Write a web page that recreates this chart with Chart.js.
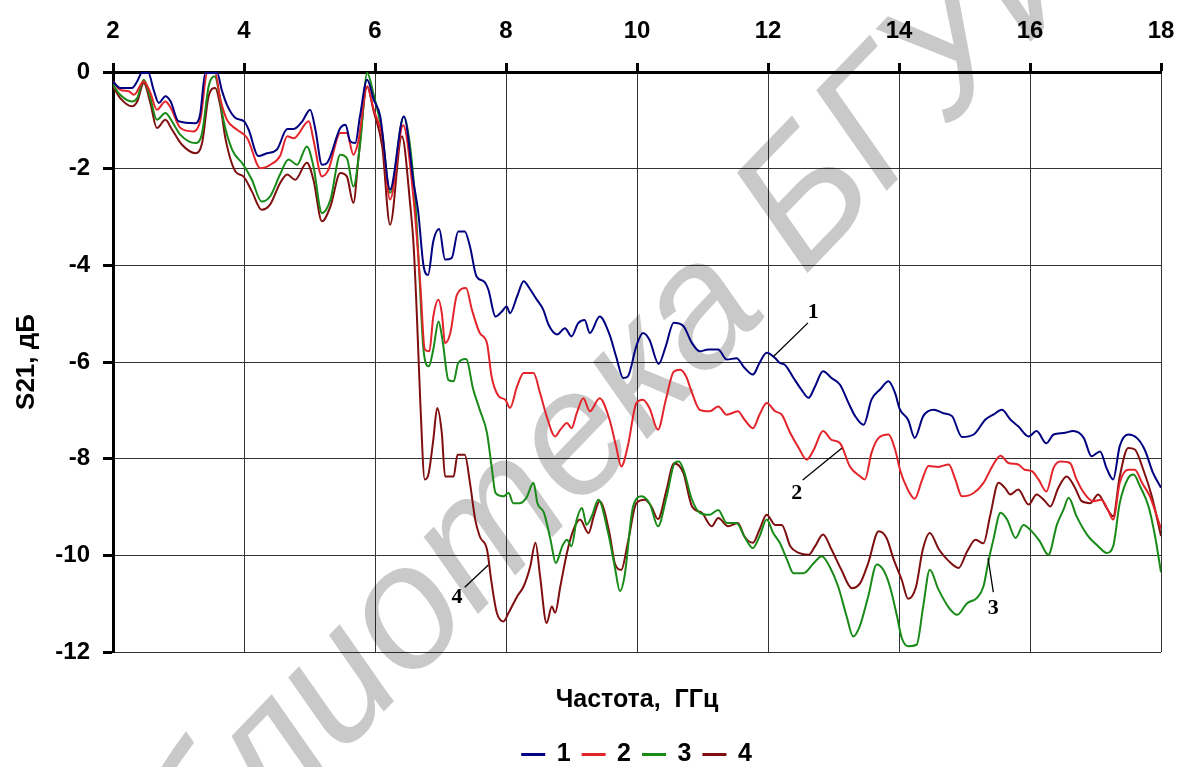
<!DOCTYPE html>
<html>
<head>
<meta charset="utf-8">
<script src="https://cdn.jsdelivr.net/npm/chart.js@4.4.1/dist/chart.umd.min.js"></script>
<style>
  html, body { margin: 0; padding: 0; background: #fff; }
  #wrap { width: 1177px; height: 767px; }
</style>
</head>
<body>
<div id="wrap"><canvas id="s21-chart"></canvas></div>
<script>
// frequency, GHz / S21, dB
const f1 = [2.0,2.11,2.29,2.37,2.44,2.54,2.62,2.70,2.80,2.88,3.0,3.26,3.33,3.41,3.59,3.66,3.74,3.87,4.0,4.07,4.22,4.35,4.5,4.66,4.76,4.89,5.01,5.09,5.19,5.27,5.47,5.55,5.62,5.70,5.77,5.88,5.98,6.08,6.23,6.44,6.59,6.66,6.74,6.81,6.89,6.98,7.07,7.17,7.27,7.37,7.45,7.55,7.66,7.73,7.84,7.94,8.01,8.06,8.17,8.27,8.37,8.47,8.57,8.65,8.78,8.9,9.0,9.1,9.2,9.28,9.43,9.58,9.68,9.79,9.86,9.99,10.09,10.19,10.33,10.44,10.56,10.71,10.84,10.96,11.09,11.24,11.37,11.52,11.64,11.77,11.87,11.98,12.11,12.18,12.26,12.39,12.51,12.62,12.72,12.84,12.97,13.1,13.23,13.33,13.46,13.58,13.71,13.84,13.94,14.01,14.14,14.24,14.37,14.53,14.68,14.81,14.96,15.14,15.32,15.44,15.57,15.7,15.82,15.98,16.1,16.25,16.36,16.51,16.66,16.82,16.94,17.07,17.17,17.27,17.37,17.5,17.63,17.75,17.88,18.0];
const s1 = [-0.2,-0.33,-0.33,-0.19,-0.02,-0.02,-0.37,-0.64,-0.5,-0.61,-1.02,-1.06,-0.88,-0.02,-0.02,-0.37,-0.68,-0.95,-1.02,-1.19,-1.74,-1.68,-1.61,-1.18,-1.18,-1.02,-0.78,-1.19,-1.92,-1.88,-1.16,-1.09,-1.43,-1.47,-0.92,-0.16,-0.57,-0.92,-2.43,-0.92,-2.3,-2.9,-4.0,-4.2,-3.5,-3.25,-3.88,-3.85,-3.3,-3.3,-3.61,-4.23,-4.33,-4.5,-5.06,-4.95,-4.85,-4.99,-4.64,-4.33,-4.5,-4.71,-4.92,-5.23,-5.43,-5.3,-5.47,-5.2,-5.13,-5.4,-5.06,-5.43,-5.88,-6.33,-6.3,-5.67,-5.4,-5.54,-6.04,-5.67,-5.19,-5.26,-5.61,-5.78,-5.74,-5.74,-5.95,-5.92,-6.12,-6.26,-6.02,-5.81,-5.92,-6.02,-6.06,-6.33,-6.57,-6.74,-6.5,-6.19,-6.33,-6.47,-6.85,-7.12,-7.3,-6.78,-6.57,-6.4,-6.64,-6.97,-7.2,-7.57,-7.12,-6.99,-7.06,-7.12,-7.55,-7.5,-7.19,-7.09,-6.99,-7.19,-7.33,-7.54,-7.43,-7.68,-7.5,-7.47,-7.43,-7.57,-7.95,-7.85,-8.2,-8.43,-7.74,-7.5,-7.57,-7.81,-8.3,-8.6];

const f2 = [2.0,2.11,2.24,2.32,2.47,2.57,2.67,2.8,2.88,3.03,3.23,3.33,3.44,3.56,3.64,3.74,3.89,4.05,4.25,4.4,4.55,4.66,4.76,4.99,5.06,5.19,5.29,5.47,5.57,5.67,5.75,5.88,5.98,6.11,6.23,6.43,6.59,6.69,6.76,6.83,6.89,6.97,7.02,7.07,7.15,7.25,7.39,7.48,7.6,7.71,7.78,7.89,7.99,8.06,8.17,8.27,8.42,8.52,8.62,8.75,8.83,8.93,9.0,9.08,9.18,9.28,9.43,9.58,9.68,9.76,9.86,9.99,10.09,10.19,10.32,10.44,10.56,10.66,10.75,10.84,10.96,11.11,11.24,11.37,11.54,11.64,11.77,11.87,11.98,12.11,12.21,12.34,12.47,12.59,12.7,12.84,12.97,13.1,13.25,13.41,13.48,13.58,13.69,13.84,13.94,14.02,14.12,14.24,14.35,14.45,14.6,14.76,14.86,14.96,15.14,15.29,15.44,15.55,15.67,15.82,15.92,16.03,16.13,16.25,16.36,16.46,16.61,16.71,16.84,16.96,17.09,17.19,17.27,17.37,17.5,17.6,17.71,17.83,18.0];
const s2 = [-0.19,-0.37,-0.4,-0.47,-0.19,-0.43,-0.78,-0.61,-0.74,-1.16,-1.23,-1.02,-0.02,-0.02,-0.57,-0.99,-1.19,-1.37,-1.99,-1.92,-1.74,-1.33,-1.37,-1.02,-1.4,-2.16,-2.02,-1.26,-1.26,-1.71,-1.4,-0.3,-0.78,-1.33,-2.64,-1.1,-2.64,-4.36,-5.74,-5.78,-5.06,-4.71,-4.99,-5.61,-5.4,-4.61,-4.47,-4.92,-5.4,-5.61,-6.3,-6.71,-6.78,-6.95,-6.5,-6.23,-6.23,-6.64,-7.12,-7.54,-7.4,-7.26,-7.37,-7.06,-6.75,-7.02,-6.75,-7.19,-7.74,-8.16,-7.74,-6.85,-6.78,-6.95,-7.4,-6.78,-6.2,-6.16,-6.3,-6.64,-6.99,-7.02,-6.92,-7.09,-7.02,-7.19,-7.37,-7.09,-6.85,-7.02,-7.09,-7.47,-7.78,-8.02,-7.81,-7.43,-7.61,-7.68,-8.16,-8.37,-8.43,-7.88,-7.57,-7.5,-7.81,-8.25,-8.6,-8.83,-8.45,-8.15,-8.17,-8.12,-8.43,-8.78,-8.71,-8.5,-8.12,-7.94,-8.09,-8.12,-8.23,-8.26,-8.43,-8.68,-8.19,-8.06,-8.09,-8.43,-8.74,-8.88,-8.85,-9.06,-9.26,-8.5,-8.23,-8.23,-8.5,-8.78,-9.45];

const f3 = [2.0,2.11,2.29,2.37,2.47,2.57,2.67,2.8,2.9,3.03,3.26,3.36,3.46,3.56,3.61,3.69,3.82,3.99,4.12,4.27,4.4,4.55,4.68,4.81,4.96,5.06,5.19,5.32,5.47,5.57,5.67,5.78,5.88,5.98,6.11,6.23,6.44,6.6,6.67,6.74,6.82,6.89,6.97,7.03,7.12,7.2,7.27,7.39,7.5,7.6,7.71,7.78,7.84,7.96,8.04,8.11,8.21,8.31,8.42,8.48,8.58,8.68,8.76,8.86,8.93,9.0,9.08,9.16,9.23,9.31,9.41,9.56,9.66,9.74,9.81,9.94,10.07,10.2,10.32,10.45,10.58,10.64,10.71,10.84,10.96,11.11,11.24,11.37,11.52,11.64,11.77,11.87,11.98,12.08,12.18,12.29,12.39,12.54,12.7,12.82,12.94,13.07,13.2,13.3,13.4,13.53,13.66,13.76,13.86,13.97,14.04,14.14,14.27,14.37,14.47,14.6,14.76,14.89,15.04,15.19,15.29,15.37,15.44,15.55,15.65,15.78,15.9,16.03,16.15,16.28,16.41,16.51,16.59,16.71,16.87,17.04,17.17,17.27,17.37,17.5,17.58,17.68,17.81,17.91,18.0];
const s3 = [-0.26,-0.47,-0.61,-0.54,-0.16,-0.54,-0.99,-0.85,-1.02,-1.3,-1.47,-1.26,-0.3,-0.09,-0.37,-1.02,-1.61,-1.92,-2.23,-2.68,-2.57,-2.12,-1.81,-1.92,-1.54,-1.95,-2.92,-2.64,-1.71,-1.78,-2.37,-1.4,-0.02,-0.47,-1.26,-2.5,-0.92,-2.4,-4.0,-5.74,-6.09,-5.74,-5.16,-5.54,-6.37,-6.4,-6.02,-5.94,-6.57,-6.99,-7.47,-8.16,-8.71,-8.78,-8.71,-8.92,-8.92,-8.81,-8.5,-8.92,-9.12,-9.68,-10.16,-9.81,-9.68,-9.81,-9.26,-9.02,-9.37,-9.19,-8.85,-9.54,-10.23,-10.74,-10.43,-8.99,-8.78,-8.95,-9.4,-8.8,-8.08,-8.06,-8.23,-8.85,-9.12,-9.16,-9.06,-9.33,-9.33,-9.61,-9.85,-9.61,-9.26,-9.54,-9.74,-10.09,-10.37,-10.37,-10.16,-10.02,-10.23,-10.64,-11.26,-11.68,-11.47,-10.85,-10.19,-10.3,-10.64,-11.26,-11.7,-11.88,-11.85,-11.05,-10.3,-10.7,-11.08,-11.23,-10.99,-10.88,-10.64,-10.09,-9.68,-9.12,-9.26,-9.64,-9.37,-9.51,-9.71,-9.99,-9.37,-9.06,-8.81,-9.19,-9.57,-9.81,-9.95,-9.81,-8.92,-8.4,-8.33,-8.57,-8.99,-9.61,-10.35];

const f4 = [2.0,2.11,2.29,2.37,2.47,2.57,2.67,2.8,2.9,3.05,3.26,3.36,3.46,3.56,3.64,3.72,3.87,3.99,4.12,4.27,4.4,4.55,4.66,4.78,4.96,5.06,5.19,5.32,5.47,5.57,5.67,5.75,5.88,5.98,6.11,6.23,6.41,6.54,6.59,6.64,6.69,6.76,6.82,6.89,6.95,7.02,7.07,7.2,7.26,7.37,7.45,7.53,7.6,7.71,7.78,7.86,7.96,8.04,8.17,8.27,8.37,8.45,8.52,8.62,8.7,8.75,8.83,8.93,9.03,9.13,9.26,9.34,9.43,9.58,9.66,9.76,9.86,9.99,10.12,10.22,10.32,10.45,10.56,10.64,10.71,10.84,10.99,11.14,11.24,11.39,11.54,11.64,11.77,11.87,11.98,12.11,12.21,12.34,12.47,12.62,12.72,12.84,12.97,13.12,13.28,13.41,13.53,13.69,13.81,13.92,14.04,14.14,14.26,14.36,14.47,14.61,14.76,14.91,15.04,15.17,15.29,15.39,15.52,15.62,15.7,15.82,15.98,16.1,16.23,16.31,16.43,16.56,16.69,16.79,16.92,17.04,17.17,17.27,17.37,17.5,17.6,17.73,17.86,18.0];
const s4 = [-0.3,-0.54,-0.71,-0.61,-0.23,-0.64,-1.16,-0.99,-1.19,-1.5,-1.68,-1.47,-0.5,-0.33,-0.71,-1.4,-2.06,-2.16,-2.47,-2.85,-2.74,-2.3,-2.12,-2.23,-1.88,-2.23,-3.09,-2.78,-2.09,-2.16,-2.71,-1.74,-0.3,-0.81,-1.54,-3.16,-1.33,-2.78,-3.6,-5.06,-6.78,-8.43,-8.3,-7.61,-6.95,-7.47,-8.37,-8.37,-7.92,-7.92,-8.5,-9.26,-9.61,-9.88,-10.57,-11.19,-11.37,-11.19,-10.85,-10.64,-10.23,-9.74,-10.43,-11.4,-11.06,-11.19,-10.64,-9.95,-9.47,-9.26,-9.54,-9.19,-8.88,-9.54,-10.16,-10.3,-9.74,-8.92,-8.85,-8.99,-9.25,-8.65,-8.1,-8.14,-8.3,-8.99,-9.12,-9.4,-9.23,-9.4,-9.33,-9.61,-9.74,-9.47,-9.16,-9.37,-9.37,-9.81,-9.95,-9.99,-9.81,-9.57,-9.88,-10.3,-10.68,-10.57,-10.16,-9.5,-9.64,-10.09,-10.5,-10.9,-10.65,-9.9,-9.54,-9.88,-10.12,-10.26,-9.92,-9.68,-9.75,-9.19,-8.5,-8.61,-8.74,-8.64,-8.95,-8.74,-8.88,-8.99,-8.61,-8.37,-8.61,-8.88,-8.92,-8.74,-9.02,-9.19,-8.37,-7.78,-7.81,-8.23,-8.78,-9.6];

const seriesNames = ['1', '2', '3', '4'];
const seriesColors = ['#000080', '#e3242b', '#178a17', '#7f0f0f'];
const xTicks = [2, 4, 6, 8, 10, 12, 14, 16, 18];
const yTicks = [0, -2, -4, -6, -8, -10, -12];

// curve labels with leader lines: [text, label x, label y, line from x,y, line to x,y]
const callouts = [
  ['1', 12.69, -4.98, 12.61, -5.19, 12.08, -5.89],
  ['2', 12.44, -8.71, 12.53, -8.44, 13.13, -7.78],
  ['3', 15.44, -11.09, 15.44, -10.76, 15.36, -10.06],
  ['4', 7.25, -10.86, 7.37, -10.66, 7.73, -10.2]
];

const freqs = [f1, f2, f3, f4];
const vals = [s1, s2, s3, s4];

const whiteBg = {
  id: 'whiteBg',
  beforeDraw(chart) {
    const ctx = chart.ctx;
    ctx.save();
    ctx.fillStyle = '#fff';
    ctx.fillRect(0, 0, chart.width, chart.height);
    ctx.restore();
  }
};

// faint library stamp lying diagonally over the figure
const watermark = {
  id: 'watermark',
  beforeDatasetsDraw(chart) {
    const ctx = chart.ctx;
    const em = 175;
    const th = 46 * Math.PI / 180;
    ctx.save();
    ctx.globalCompositeOperation = 'multiply';
    ctx.fillStyle = '#c9c9c9';
    ctx.textAlign = 'left';
    ctx.textBaseline = 'alphabetic';
    ctx.font = 'italic ' + em + 'px "Liberation Sans", Arial, sans-serif';
    const d = ctx.measureText('Библиотека ').width + ctx.measureText('Б').width / 2;
    const cx = 798, cy = 192;
    const ox = cx - d * Math.cos(th) + 0.36 * em * Math.sin(th);
    const oy = cy + d * Math.sin(th) + 0.36 * em * Math.cos(th);
    ctx.translate(ox, oy);
    ctx.rotate(-th);
    ctx.fillText('Библиотека БГУИР', 0, 0);
    ctx.restore();
  }
};

const curveLabels = {
  id: 'curveLabels',
  afterDatasetsDraw(chart) {
    const ctx = chart.ctx;
    const xs = chart.scales.x, ys = chart.scales.y;
    ctx.save();
    ctx.strokeStyle = '#000';
    ctx.lineWidth = 1.3;
    ctx.fillStyle = '#000';
    ctx.font = 'bold 22px "Liberation Serif", "Times New Roman", serif';
    ctx.textAlign = 'center';
    ctx.textBaseline = 'middle';
    callouts.forEach(c => {
      ctx.beginPath();
      ctx.moveTo(xs.getPixelForValue(c[3]), ys.getPixelForValue(c[4]));
      ctx.lineTo(xs.getPixelForValue(c[5]), ys.getPixelForValue(c[6]));
      ctx.stroke();
      ctx.fillText(c[0], xs.getPixelForValue(c[1]), ys.getPixelForValue(c[2]));
    });
    ctx.restore();
  }
};

const datasets = seriesNames.map((name, k) => ({
  label: name,
  data: freqs[k].map((f, i) => ({ x: f, y: vals[k][i] })),
  borderColor: seriesColors[k],
  backgroundColor: seriesColors[k],
  borderWidth: 2,
  pointRadius: 0,
  cubicInterpolationMode: 'monotone',
  fill: false
}));

const tickFont = { family: 'Arial, "Liberation Sans", sans-serif', size: 24, weight: 'bold' };

const s21Chart = new Chart(document.getElementById('s21-chart'), {
  type: 'line',
  data: { datasets: datasets },
  plugins: [whiteBg, watermark, curveLabels],
  options: {
    responsive: true,
    maintainAspectRatio: false,
    animation: false,
    layout: { padding: { left: 0, right: 16, top: 0, bottom: -10 } },
    scales: {
      x: {
        type: 'linear',
        position: 'top',
        min: 2,
        max: 18,
        afterBuildTicks: (scale) => { scale.ticks = xTicks.map(v => ({ value: v })); },
        afterFit: (scale) => {
          scale.height = 72;
          scale.paddingLeft = 0;
          scale.paddingRight = 0;
        },
        ticks: { font: tickFont, color: '#000', padding: 17, maxRotation: 0 },
        grid: { color: '#333', lineWidth: 1, tickLength: 9, tickWidth: 3, tickColor: '#000' },
        border: { color: '#000', width: 3 }
      },
      y: {
        min: -12,
        max: 0,
        afterBuildTicks: (scale) => { scale.ticks = yTicks.map(v => ({ value: v })); },
        afterFit: (scale) => {
          scale.width = 113;
          scale.paddingTop = 0;
          scale.paddingBottom = 0;
        },
        ticks: { font: tickFont, color: '#000', padding: 13 },
        grid: { color: '#333', lineWidth: 1, tickLength: 10, tickWidth: 3, tickColor: '#000' },
        border: { color: '#000', width: 3 },
        title: {
          display: true,
          text: 'S21, дБ',
          color: '#000',
          font: { family: 'Arial, "Liberation Sans", sans-serif', size: 26, weight: 'bold' },
          padding: { top: 11, bottom: 0 }
        }
      }
    },
    plugins: {
      tooltip: { enabled: false },
      title: {
        display: true,
        position: 'bottom',
        fullSize: false,
        weight: 900,
        text: 'Частота,  ГГц',
        color: '#000',
        font: { family: 'Arial, "Liberation Sans", sans-serif', size: 25, weight: 'bold', lineHeight: 1.0 },
        padding: { top: 36, bottom: 17 }
      },
      legend: {
        position: 'bottom',
        fullSize: false,
        labels: {
          color: '#000',
          font: { family: 'Arial, "Liberation Sans", sans-serif', size: 25, weight: 'bold' },
          boxWidth: 22,
          boxHeight: 1,
          padding: 12
        }
      }
    }
  }
});
</script>
</body>
</html>
